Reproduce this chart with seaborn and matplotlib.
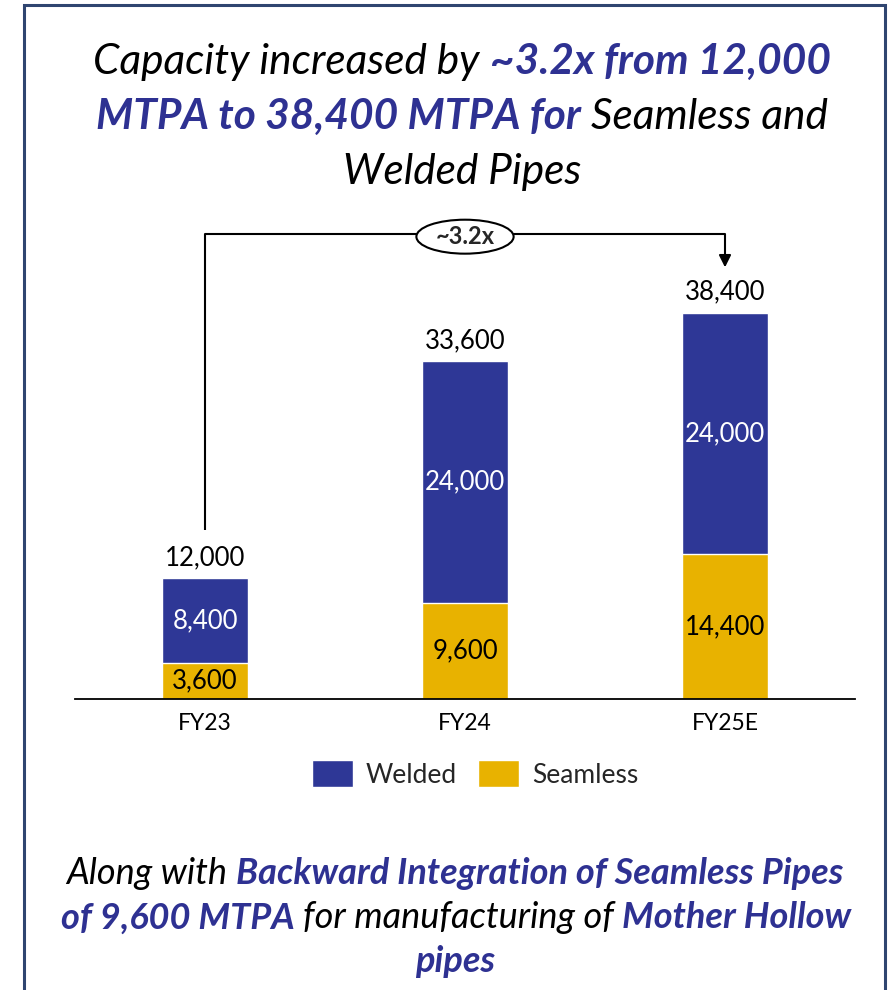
import matplotlib
matplotlib.use("Agg")
import matplotlib.pyplot as plt
import seaborn as sns
import pandas as pd
from matplotlib.patches import Rectangle, Ellipse, Patch

categories = ["FY23", "FY24", "FY25E"]
seamless = [3600, 9600, 14400]
welded = [8400, 24000, 24000]
totals = [12000, 33600, 38400]
multiple_label = "~3.2x"

BLUE = "#2E3796"
GOLD = "#E8B200"
TBLUE = "#2E3192"
FRAME = "#2F4570"

sns.set_theme(style="white")
plt.rcParams['font.family'] = ['Lato', 'DejaVu Sans']

W, H = 889, 990
fig = plt.figure(figsize=(W / 100, H / 100), dpi=100)

def fx(px):
    return px / W

def fy(py):
    return 1 - py / H

# frame
fig.patches.append(Rectangle((fx(24), fy(1000)), fx(885) - fx(24), fy(5) - fy(1000),
                             transform=fig.transFigure, fill=False, edgecolor=FRAME, lw=2.2))

ax = fig.add_axes([fx(75), fy(699), fx(855) - fx(75), fy(200) - fy(699)])
df = pd.DataFrame({"cat": categories, "seamless": seamless, "welded": welded, "total": totals})
sns.barplot(data=df, x="cat", y="total", color=BLUE, width=0.33, saturation=1, ax=ax)
sns.barplot(data=df, x="cat", y="seamless", color=GOLD, width=0.33, saturation=1, ax=ax)
ax.set_xlim(-0.5, 2.5)
ax.set_ylim(0, 49650)
ax.set_xlabel("")
ax.set_ylabel("")
ax.set_yticks([])
for s in ["top", "left", "right"]:
    ax.spines[s].set_visible(False)
ax.spines["bottom"].set_color("black")
ax.spines["bottom"].set_linewidth(1.3)
ax.tick_params(axis="x", length=0, pad=10, labelsize=16.5, labelcolor="black")

for i in range(len(categories)):
    ax.text(i, seamless[i] / 2, f"{seamless[i]:,}", ha="center", va="center", fontsize=18.5, color="black")
    ax.text(i, seamless[i] + welded[i] / 2, f"{welded[i]:,}", ha="center", va="center", fontsize=18.5, color="white")
    ax.annotate(f"{totals[i]:,}", (i, totals[i]), xytext=(0, 6), textcoords="offset points",
                ha="center", va="bottom", fontsize=18.5, color="black")

# bracket
y_br = 46270
ax.plot([0, 0, 2, 2], [16800, y_br, y_br, 43900], color="black", lw=1.5, solid_capstyle="butt", zorder=3)
ax.annotate("", xy=(2, 42950), xytext=(2, 44200),
            arrowprops=dict(arrowstyle="-|>", color="black", lw=1.5, mutation_scale=18, shrinkA=0, shrinkB=0))
ell = Ellipse((1.0, 46000), 0.374, 3380, facecolor="white", edgecolor="black", lw=1.5, zorder=4)
ax.add_patch(ell)
ax.text(1.0, 46000, multiple_label, ha="center", va="center", fontsize=17, fontweight="bold", zorder=5)

# legend
handles = [Patch(facecolor=BLUE, label="Welded"), Patch(facecolor=GOLD, label="Seamless")]
fig.legend(handles=handles, loc="center", bbox_to_anchor=(fx(475), fy(774)), ncol=2, frameon=False,
           fontsize=19, handlelength=1.55, handleheight=1.21, handletextpad=0.5, columnspacing=0.8)

# rich text lines
fig.canvas.draw()
renderer = fig.canvas.get_renderer()

def rich_line(segments, cx, cy, size):
    texts = []
    for s, color, weight in segments:
        t = fig.text(0, fy(cy), s, fontsize=size, color=color, fontweight=weight, style="italic",
                     ha="left", va="center")
        texts.append(t)
    widths = [t.get_window_extent(renderer).width for t in texts]
    total = sum(widths)
    x = cx - total / 2
    for t, w in zip(texts, widths):
        t.set_x(fx(x))
        x += w

K = "black"
rich_line([("Capacity increased by ", K, "normal"), ("~3.2x from 12,000", TBLUE, "bold")], 462, 62, 30.5)
rich_line([("MTPA to 38,400 MTPA for ", TBLUE, "bold"), ("Seamless and", K, "normal")], 462, 117, 30.5)
rich_line([("Welded Pipes", K, "normal")], 462, 172, 30.5)

rich_line([("Along with ", K, "normal"), ("Backward Integration of Seamless Pipes", TBLUE, "bold")], 455, 874, 26)
rich_line([("of 9,600 MTPA ", TBLUE, "bold"), ("for manufacturing of ", K, "normal"), ("Mother Hollow", TBLUE, "bold")], 456, 918, 26)
rich_line([("pipes", TBLUE, "bold")], 455, 962, 26)

fig.savefig("out.png", dpi=100)
